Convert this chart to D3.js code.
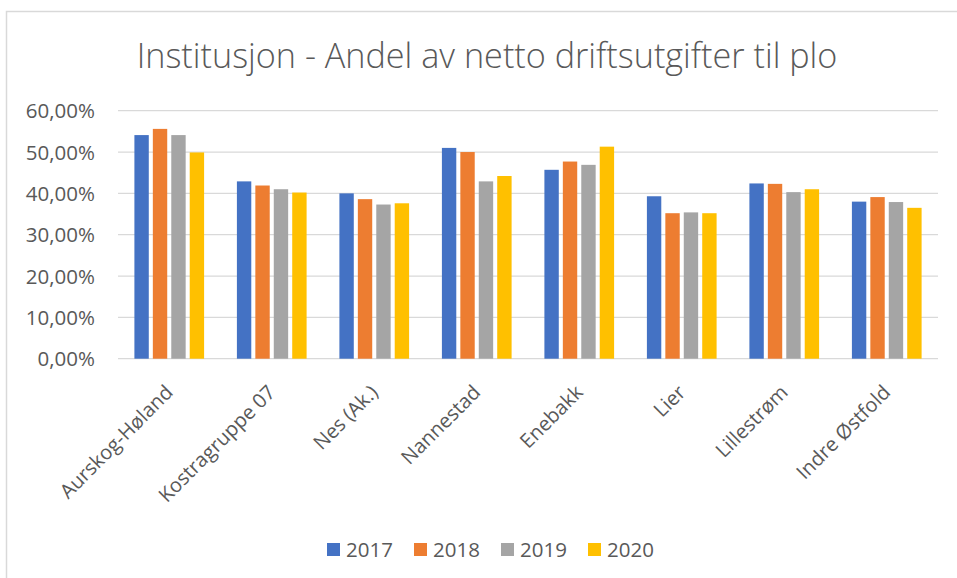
<!DOCTYPE html>
<html>
<head>
<meta charset="utf-8">
<script src="https://cdn.jsdelivr.net/npm/d3@7/dist/d3.min.js"></script>
<style>
  html, body { margin: 0; padding: 0; background: #fff; }
  svg { display: block; }
  text { font-family: "Open Sans", "Noto Sans", sans-serif; fill: #595959; }
</style>
</head>
<body>
<svg id="chart" width="957" height="578"></svg>
<script>
const title = "Institusjon - Andel av netto driftsutgifter til plo";
const categories = ["Aurskog-Høland", "Kostragruppe 07", "Nes (Ak.)", "Nannestad", "Enebakk", "Lier", "Lillestrøm", "Indre Østfold"];
const seriesNames = ["2017", "2018", "2019", "2020"];
const seriesColors = ["#4472C4", "#ED7D31", "#A5A5A5", "#FFC000"];
const values2017 = [0.541, 0.429, 0.400, 0.510, 0.457, 0.393, 0.424, 0.380];
const values2018 = [0.556, 0.419, 0.386, 0.500, 0.477, 0.352, 0.423, 0.391];
const values2019 = [0.541, 0.410, 0.373, 0.429, 0.469, 0.354, 0.403, 0.379];
const values2020 = [0.499, 0.402, 0.376, 0.442, 0.513, 0.352, 0.410, 0.365];
const yTicks = [0, 0.1, 0.2, 0.3, 0.4, 0.5, 0.6];

const seriesValues = [values2017, values2018, values2019, values2020];
const svg = d3.select("#chart");

// chart frame
svg.append("rect").attr("x", 6.5).attr("y", 11.5).attr("width", 960).attr("height", 600)
  .attr("fill", "#fff").attr("stroke", "#d9d9d9").attr("stroke-width", 1.5);

const plot = { left: 118, right: 938, top: 110.7, bottom: 358.7 };

const x0 = d3.scaleBand().domain(categories).range([plot.left, plot.right]).paddingInner(0).paddingOuter(0);
const groupW = x0.bandwidth() * 0.68;
const x1 = d3.scaleBand().domain(seriesNames).range([0, groupW]).paddingInner(0.22).paddingOuter(0);
const y = d3.scaleLinear().domain([0, 0.6]).range([plot.bottom, plot.top]);

// gridlines
svg.append("g").selectAll("line").data(yTicks).join("line")
  .attr("x1", plot.left).attr("x2", plot.right)
  .attr("y1", d => y(d)).attr("y2", d => y(d))
  .attr("stroke", "#d9d9d9").attr("stroke-width", 1.3);

// y axis labels
const fmt = d => (d * 100).toFixed(2).replace(".", ",") + "%";
const yAxis = d3.axisLeft(y).tickValues(yTicks).tickFormat(fmt).tickSize(0).tickPadding(0);
const yg = svg.append("g").attr("transform", `translate(95,0)`).call(yAxis);
yg.select(".domain").remove();
yg.selectAll("text").style("font-size", "20.5px").style("fill", "#595959")
  .style("font-family", '"Open Sans", sans-serif').attr("dy", "0.34em");

// bars
const groups = svg.append("g").selectAll("g").data(categories).join("g")
  .attr("transform", c => `translate(${x0(c) + (x0.bandwidth() - groupW) / 2},0)`);
groups.selectAll("rect").data((c, i) => seriesNames.map((s, k) => ({ s, k, v: seriesValues[k][i] })))
  .join("rect")
  .attr("x", d => x1(d.s)).attr("width", x1.bandwidth())
  .attr("y", d => y(d.v)).attr("height", d => y(0) - y(d.v))
  .attr("fill", d => seriesColors[d.k]);

// x axis labels
const xAxis = d3.axisBottom(x0).tickSize(0).tickPadding(0);
const xg = svg.append("g").attr("transform", `translate(0,${plot.bottom})`).call(xAxis);
xg.select(".domain").remove();
xg.selectAll(".tick text")
  .style("font-size", "20px").style("fill", "#595959").style("font-family", '"Open Sans", sans-serif')
  .attr("text-anchor", "end").attr("dy", "0.35em").attr("y", 0)
  .attr("transform", "translate(0,30) rotate(-45)");

// title
const t = svg.append("text").attr("x", 487).attr("y", 68).attr("text-anchor", "middle")
  .style("font-size", "30px").style("font-weight", 300).text(title);
const tw = t.node().getComputedTextLength();
t.style("font-size", (30 * 701 / tw) + "px");

// legend
const lg = svg.append("g").selectAll("g").data(seriesNames).join("g")
  .attr("transform", (d, i) => `translate(${327 + i * 87},543)`);
lg.append("rect").attr("width", 13).attr("height", 13).attr("fill", (d, i) => seriesColors[i]);
lg.append("text").attr("x", 19).attr("y", 6.5).attr("dy", "0.35em").style("font-size", "20.5px").text(d => d);
</script>
</body>
</html>
